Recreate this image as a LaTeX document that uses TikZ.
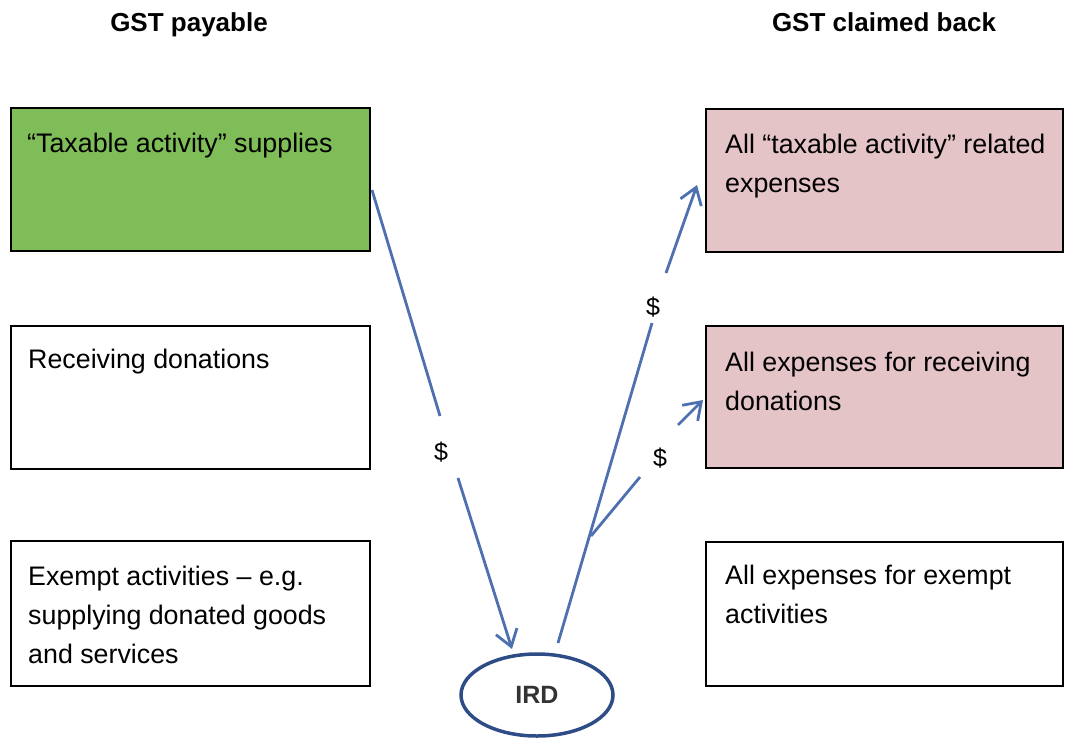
\documentclass[tikz,border=0pt]{standalone}
\usepackage{fontspec}
\setmainfont{Liberation Sans}
\usetikzlibrary{arrows.meta,shapes.geometric}
\definecolor{boxgreen}{RGB}{127,189,88}
\definecolor{boxpink}{RGB}{229,196,200}
\definecolor{flowblue}{RGB}{78,111,176}
\definecolor{irdblue}{RGB}{46,76,134}
\tikzset{
  box/.style={draw=black,line width=1.5pt,minimum width=359pt,minimum height=143pt,anchor=north west,inner sep=0pt},
  txt/.style={anchor=north west,inner sep=0pt,align=left,font=\fontsize{26.8}{39}\selectfont},
  head/.style={anchor=base,inner sep=0pt,font=\fontsize{26}{31}\selectfont\bfseries},
  dollar/.style={inner sep=0pt,font=\fontsize{25}{28}\selectfont},
  flow/.style={draw=flowblue,line width=2.8pt},
  flowarrow/.style={flow,-{Straight Barb[length=16pt,width=22pt,line width=2.8pt]}},
}
\begin{document}
\begin{tikzpicture}[x=1pt,y=-1pt]
\useasboundingbox (0,0) rectangle (1065,742);
% headers
\node[head] (h1) at (189,31) {GST payable};
\node[head] (h2) at (884,31) {GST claimed back};
% left boxes
\node[box,fill=boxgreen] (b1) at (10,107) {};
\node[box] (b2) at (10,325) {};
\node[box,minimum height=145pt] (b3) at (10,540) {};
\node[txt] (t1) at (27,125) {\strut“Taxable activity” supplies};
\node[txt] (t2) at (28,341) {\strut Receiving donations};
\node[txt] (t3) at (28,558) {\strut Exempt activities – e.g.\\supplying donated goods\\and services};
% right boxes
\node[box,fill=boxpink,minimum width=357pt] (r1) at (705,108) {};
\node[box,fill=boxpink,minimum width=357pt,minimum height=142pt] (r2) at (705,325) {};
\node[box,minimum width=357pt,minimum height=144pt] (r3) at (705,541) {};
\node[txt] (s1) at (725,126) {\strut All “taxable activity” related\\expenses};
\node[txt] (s2) at (725,344) {\strut All expenses for receiving\\donations};
\node[txt] (s3) at (725,557) {\strut All expenses for exempt\\activities};
% IRD
\node[ellipse,draw=irdblue,line width=3.5pt,minimum width=152pt,minimum height=82pt,inner sep=0pt,
      font=\fontsize{25}{30}\selectfont\bfseries,text=black!80] (ird) at (537,695) {IRD};
% dollar labels
\node[dollar] (d1) at (441,452) {\$};
\node[dollar] (d2) at (653,307) {\$};
\node[dollar] (d3) at (660,458) {\$};
% connector points
\coordinate (a1s) at (372,190);
\coordinate (a1m) at (440,416);
\coordinate (a1n) at (458,478);
\coordinate (a1e) at (512,649);
\coordinate (a2s) at (558,643);
\coordinate (a2m) at (652,323);
\coordinate (a2n) at (666,273);
\coordinate (a2e) at (697,185);
\coordinate (a3s) at (591,536);
\coordinate (a3m) at (640,477);
\coordinate (a3n) at (678,425);
\coordinate (a3e) at (703,400);
% connectors
\draw[flow] (a1s) -- (a1m);
\draw[flowarrow] (a1n) -- (a1e);
\draw[flow] (a2s) -- (a2m);
\draw[flowarrow] (a2n) -- (a2e);
\draw[flow] (a3s) -- (a3m);
\draw[flowarrow] (a3n) -- (a3e);
\end{tikzpicture}
\end{document}
